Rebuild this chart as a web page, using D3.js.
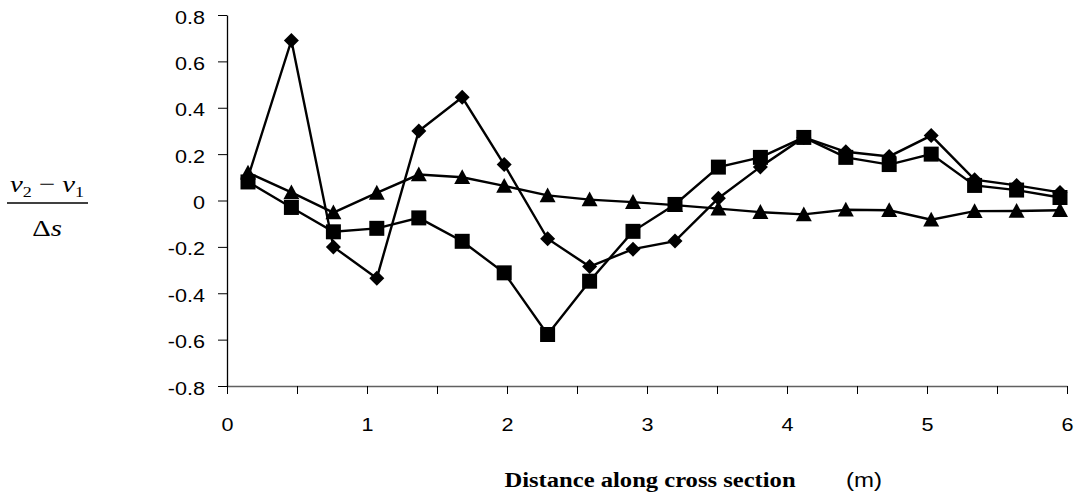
<!DOCTYPE html>
<html>
<head>
<meta charset="utf-8">
<script src="https://cdn.jsdelivr.net/npm/d3@7"></script>
<style>
  body { margin: 0; background: #fff; }
  svg { display: block; }
</style>
</head>
<body>
<div id="chart"></div>
<script>
// Positions along the section (m)
const distance = [0.15, 0.46, 0.76, 1.07, 1.37, 1.68, 1.98, 2.29, 2.59, 2.9,
  3.2, 3.51, 3.81, 4.12, 4.42, 4.73, 5.03, 5.34, 5.64, 5.95];

// (v2 - v1) / ds for the three series
const diamondValues = [0.1, 0.69, -0.2, -0.335, 0.3, 0.445, 0.155, -0.165, -0.285, -0.21,
  -0.175, 0.01, 0.145, 0.272, 0.21, 0.19, 0.28, 0.09, 0.065, 0.035];
const squareValues = [0.08, -0.03, -0.135, -0.12, -0.075, -0.176, -0.312, -0.578, -0.348, -0.133,
  -0.017, 0.144, 0.186, 0.272, 0.186, 0.155, 0.2, 0.065, 0.045, 0.013];
const triangleValues = [0.12, 0.035, -0.052, 0.033, 0.112, 0.1, 0.063, 0.022, 0.004, -0.007,
  -0.02, -0.035, -0.05, -0.06, -0.04, -0.042, -0.083, -0.046, -0.045, -0.042];

const xTicks = [0, 1, 2, 3, 4, 5, 6];
const xMinorTicks = [0, 0.5, 1, 1.5, 2, 2.5, 3, 3.5, 4, 4.5, 5, 5.5, 6];
const yTicks = [-0.8, -0.6, -0.4, -0.2, 0, 0.2, 0.4, 0.6, 0.8];

const W = 1078, H = 493;
const marginLeft = 227, marginTop = 15, plotW = 840, plotH = 371;
// the source picture is stretched sideways, so text gets the same stretch
const stretch = 1.2;
const sans = '"Liberation Sans", Arial, sans-serif';
const serif = '"Liberation Serif", "Times New Roman", serif';

const svg = d3.select('#chart').append('svg')
  .attr('width', W)
  .attr('height', H);

const x = d3.scaleLinear().domain([0, 6]).range([0, plotW]);
const y = d3.scaleLinear().domain([-0.8, 0.8]).range([plotH, 0]);

const chart = svg.append('g').attr('transform', `translate(${marginLeft}, ${marginTop})`);

// X axis: ticks every 0.5, labels on whole numbers
const xAxis = chart.append('g')
  .attr('transform', `translate(0, ${plotH})`)
  .call(d3.axisBottom(x).tickValues(xMinorTicks).tickSizeInner(8).tickSizeOuter(0)
    .tickFormat((d) => (xTicks.includes(d) ? String(d) : '')));
xAxis.select('.domain').attr('stroke', '#606060').attr('stroke-width', 1.3);
xAxis.selectAll('.tick line').attr('stroke', '#000');
xAxis.selectAll('.tick text')
  .attr('y', 0)
  .attr('dy', 0)
  .attr('transform', `translate(0, 45) scale(${stretch}, 1)`)
  .style('font-family', sans)
  .style('font-size', '18px')
  .attr('fill', '#000');

// Y axis
const yAxis = chart.append('g')
  .call(d3.axisLeft(y).tickValues(yTicks).tickSizeInner(9).tickSizeOuter(0)
    .tickFormat((d) => (d === 0 ? '0' : d.toFixed(1))));
yAxis.select('.domain').attr('stroke', '#000').attr('stroke-width', 1.3);
yAxis.selectAll('.tick line').attr('stroke', '#000');
yAxis.selectAll('.tick text')
  .attr('x', 0)
  .attr('dy', '0.45em')
  .attr('transform', `translate(-22, 0) scale(${stretch}, 1)`)
  .style('font-family', sans)
  .style('font-size', '18px')
  .attr('fill', '#000');

// Marker shapes
const diamond = (r) => `M0,${-r}L${r},0L0,${r}L${-r},0Z`;
const square = (r) => `M${-r},${-r}H${r}V${r}H${-r}Z`;
const triangle = (r) => `M0,${-r}L${r},${r * 0.85}L${-r},${r * 0.85}Z`;

const series = [
  { values: triangleValues, shape: triangle(8) },
  { values: squareValues, shape: square(7.5) },
  { values: diamondValues, shape: diamond(7.5) },
];

const line = d3.line()
  .x((d) => x(d[0]))
  .y((d) => y(d[1]));

series.forEach((s) => {
  const pts = distance.map((d, i) => [d, s.values[i]]);
  chart.append('path')
    .datum(pts)
    .attr('fill', 'none')
    .attr('stroke', '#000')
    .attr('stroke-width', 2.4)
    .attr('d', line);
  chart.selectAll(null)
    .data(pts).enter()
    .append('path')
    .attr('transform', (d) => `translate(${x(d[0])}, ${y(d[1])})`)
    .attr('d', s.shape)
    .attr('fill', '#000');
});

// Y axis label: (v2 - v1) / Δs
const yl = svg.append('g')
  .style('font-family', serif)
  .attr('fill', '#000');
const num = yl.append('text')
  .attr('transform', `translate(47, 192) scale(${stretch}, 1)`)
  .attr('text-anchor', 'middle')
  .style('font-size', '24px');
num.append('tspan').style('font-style', 'italic').text('v');
num.append('tspan').attr('dy', 5).style('font-size', '15px').text('2');
num.append('tspan').attr('dy', -5).text(' \u2212 ');
num.append('tspan').style('font-style', 'italic').text('v');
num.append('tspan').attr('dy', 5).style('font-size', '15px').text('1');
yl.append('line')
  .attr('x1', 7).attr('x2', 88)
  .attr('y1', 203).attr('y2', 203)
  .attr('stroke', '#000')
  .attr('stroke-width', 1.3);
const den = yl.append('text')
  .attr('transform', `translate(47, 236) scale(${stretch}, 1)`)
  .attr('text-anchor', 'middle')
  .style('font-size', '24px');
den.append('tspan').text('\u0394');
den.append('tspan').style('font-style', 'italic').text('s');

// X axis title
svg.append('text')
  .attr('transform', `translate(650, 487) scale(${stretch}, 1)`)
  .attr('text-anchor', 'middle')
  .style('font-family', serif)
  .style('font-weight', 'bold')
  .style('font-size', '20.5px')
  .text('Distance along cross section');
svg.append('text')
  .attr('transform', `translate(864, 487) scale(${stretch}, 1)`)
  .attr('text-anchor', 'middle')
  .style('font-family', sans)
  .style('font-size', '20px')
  .text('(m)');
</script>
</body>
</html>
